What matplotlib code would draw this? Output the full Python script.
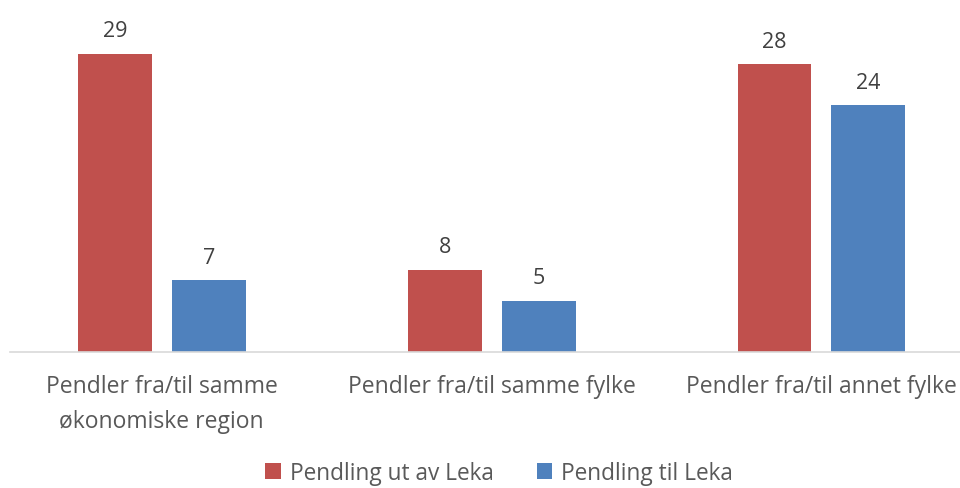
import matplotlib.pyplot as plt
import numpy as np

plt.rcParams['font.family'] = ['Open Sans', 'DejaVu Sans']

categories = ['Pendler fra/til samme\nøkonomiske region',
              'Pendler fra/til samme fylke',
              'Pendler fra/til annet fylke']
series_names = ['Pendling ut av Leka', 'Pendling til Leka']
ut_av = [29, 8, 28]
til = [7, 5, 24]

red = '#C0504D'
blue = '#4F81BD'
txt = '#595959'

fig = plt.figure(figsize=(9.6, 4.89), dpi=100)
ax = fig.add_axes([10 / 960, (489 - 353) / 489, 950 / 960, (353 - 21) / 489])

x = np.arange(len(categories))
w = 0.224
off = 0.1424
b1 = ax.bar(x - off, ut_av, w, color=red, label=series_names[0])
b2 = ax.bar(x + off, til, w, color=blue, label=series_names[1])

for bars in (b1, b2):
    for r in bars:
        ax.annotate(str(int(r.get_height())), (r.get_x() + r.get_width() / 2, r.get_height()),
                    xytext=(0, 9), textcoords='offset points', ha='center', va='bottom',
                    fontsize=15.5, color='#404040')

ax.set_xlim(-0.46, 2.42)
ax.set_ylim(0, 32.3)
ax.set_yticks([])
ax.set_xticks(x)
ax.set_xticklabels(categories, fontsize=16.5, color=txt, linespacing=1.6)
ax.tick_params(axis='x', length=0, pad=16)
for s in ('top', 'right', 'left'):
    ax.spines[s].set_visible(False)
ax.spines['bottom'].set_color('#D9D9D9')
ax.spines['bottom'].set_linewidth(1.2)

fig.legend(loc='center', bbox_to_anchor=(499 / 960, 1 - 474 / 489), ncol=2, frameon=False,
           fontsize=16.3, labelcolor=txt, handlelength=0.7, handleheight=0.7,
           handletextpad=0.4, columnspacing=1.9, borderpad=0.2)

fig.savefig('out.png', dpi=100)
